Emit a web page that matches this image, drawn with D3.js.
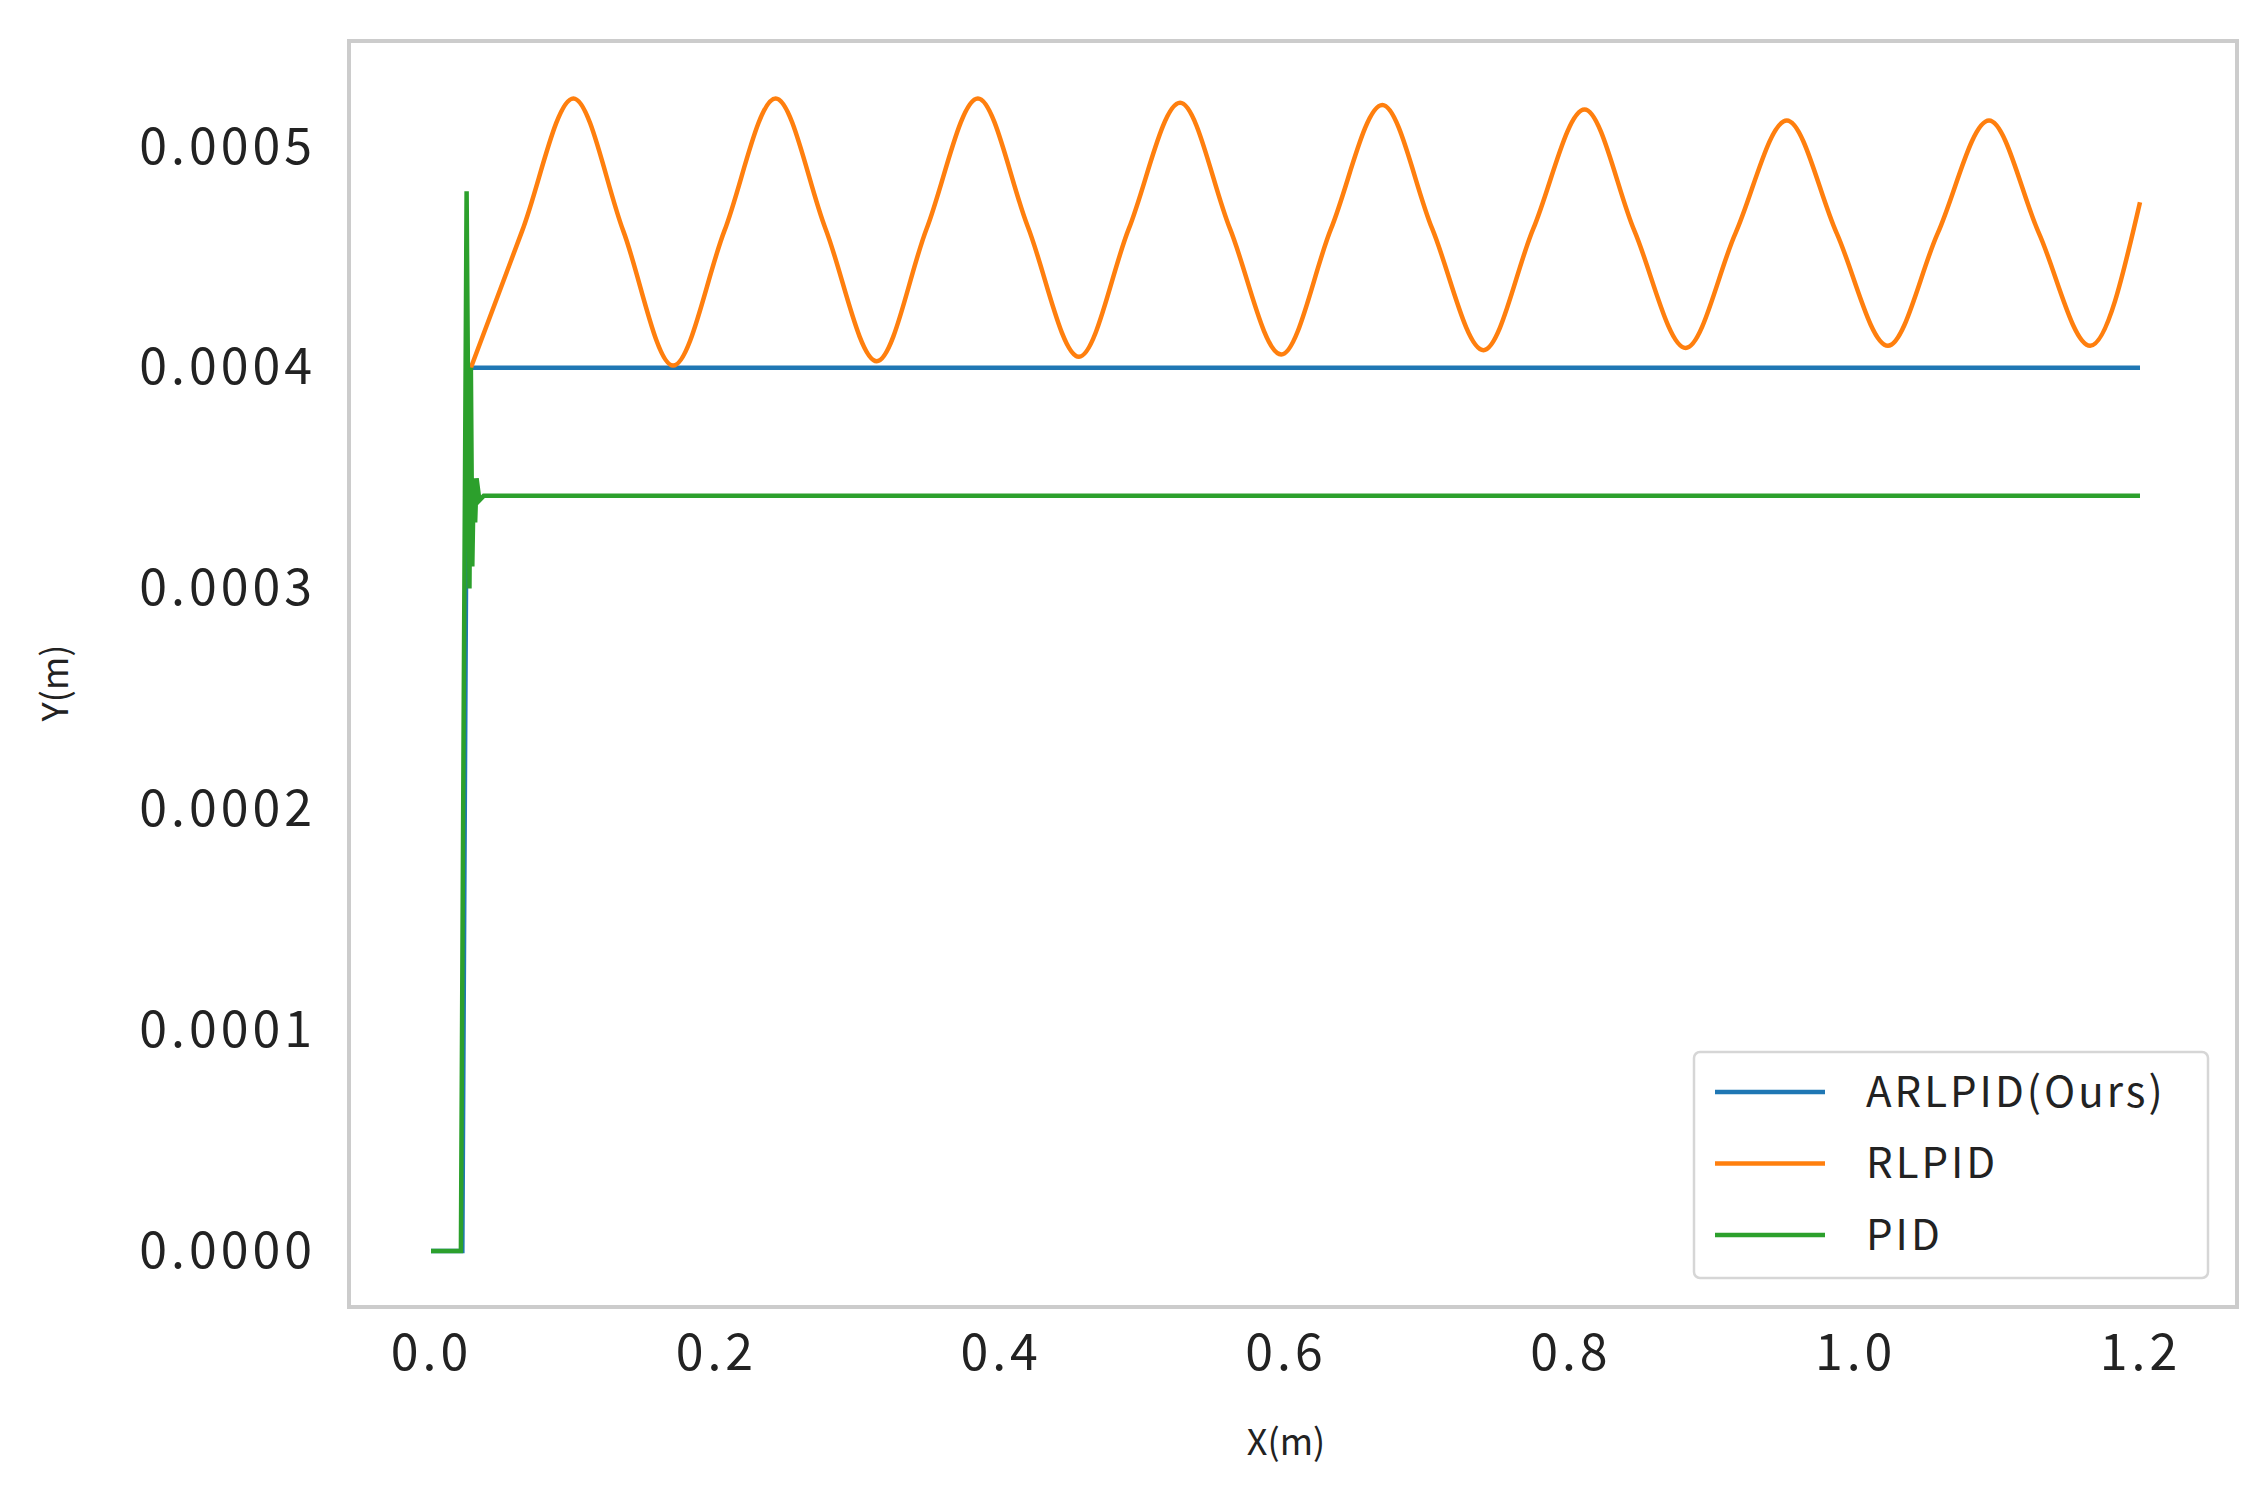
<!DOCTYPE html>
<html><head><meta charset="utf-8">
<script src="https://cdn.jsdelivr.net/npm/d3@7"></script>
<style>body{margin:0;background:#fff}</style>
</head><body>
<script>
// data
const xTicks = [0.0, 0.2, 0.4, 0.6, 0.8, 1.0, 1.2]
const yTicks = [0.0000, 0.0001, 0.0002, 0.0003, 0.0004, 0.0005]
const seriesNames = ["ARLPID(Ours)", "RLPID", "PID"]
const colors = ["#1f77b4", "#ff7f0e", "#2ca02c"]

const blueX = [0.0, 0.022, 0.025, 0.028, 1.2]
const blueY = [0, 0, 0.00035, 0.0004, 0.0004]

const orangeX = [0.028, 0.064, 0.100, 0.135, 0.170, 0.206, 0.242, 0.277, 0.313, 0.348, 0.384, 0.419, 0.455, 0.490, 0.526, 0.561, 0.597, 0.632, 0.668, 0.703, 0.739, 0.774, 0.810, 0.845, 0.881, 0.916, 0.952, 0.987, 1.023, 1.058, 1.094, 1.129, 1.165, 1.2]
const orangeY = [0.0004, 0.000462, 0.000522, 0.000462, 0.000401, 0.000462, 0.000522, 0.000463, 0.000403, 0.000463, 0.000522, 0.000464, 0.000405, 0.000463, 0.000520, 0.000463, 0.000406, 0.000463, 0.000519, 0.000463, 0.000408, 0.000463, 0.000517, 0.000462, 0.000409, 0.000461, 0.000512, 0.000461, 0.000410, 0.000461, 0.000512, 0.000461, 0.000410, 0.000475]

const greenX = [0.0, 0.021, 0.023, 0.025, 0.027, 0.028, 0.029, 0.030, 0.031, 0.032, 0.034, 0.037, 1.2]
const greenY = [0, 0, 0.00025, 0.00048, 0.00030, 0.00040, 0.00031, 0.00035, 0.00033, 0.00035, 0.00034, 0.000342, 0.000342]

const W = 2266, H = 1491
const frameL = 349, frameR = 2237, frameT = 41, frameB = 1307
const font = "'Noto Sans CJK SC', 'DejaVu Sans', sans-serif"

const svg = d3.select("body").append("svg").attr("width", W).attr("height", H)

const xScale = d3.scaleLinear().domain([0, 1.2]).range([431, 2140])
const yScale = d3.scaleLinear().domain([0, 0.0005]).range([1251, 147])

svg.append("rect")
    .attr("x", frameL).attr("y", frameT)
    .attr("width", frameR - frameL).attr("height", frameB - frameT)
    .attr("fill", "none").attr("stroke", "#cccccc").attr("stroke-width", 4)

const xAxis = svg.append("g").attr("transform", `translate(0,${frameB})`)
    .call(d3.axisBottom(xScale).tickValues(xTicks).tickSize(0).tickFormat(d3.format(".1f")))
xAxis.select(".domain").remove()
xAxis.selectAll("text").attr("dy", "1.2em")

const yAxis = svg.append("g").attr("transform", `translate(${frameL},0)`)
    .call(d3.axisLeft(yScale).tickValues(yTicks).tickSize(0).tickFormat(d3.format(".4f")))
yAxis.select(".domain").remove()
yAxis.selectAll("text").attr("dx", "-0.6em")

svg.selectAll(".tick text")
    .style("font-family", font).style("font-size", "50px")
    .style("letter-spacing", "4px").attr("fill", "#222")

const line = d3.line().x(d => xScale(d[0])).y(d => yScale(d[1]))
const zip = (a, b) => a.map((v, i) => [v, b[i]])

svg.append("path").datum(zip(blueX, blueY)).attr("d", line)
    .attr("fill", "none").attr("stroke", colors[0]).attr("stroke-width", 4.5)
svg.append("path").datum(zip(orangeX, orangeY)).attr("d", line.curve(d3.curveMonotoneX))
    .attr("fill", "none").attr("stroke", colors[1]).attr("stroke-width", 4.5)
svg.append("path").datum(zip(greenX, greenY)).attr("d", line.curve(d3.curveLinear))
    .attr("fill", "none").attr("stroke", colors[2]).attr("stroke-width", 4.5)

svg.append("text").attr("x", 1286).attr("y", 1455).attr("text-anchor", "middle")
    .style("font-family", font).style("font-size", "36px").attr("fill", "#222").text("X(m)")
svg.append("text").attr("transform", "translate(68,683) rotate(-90)").attr("text-anchor", "middle")
    .style("font-family", font).style("font-size", "36px").attr("fill", "#222").text("Y(m)")

// legend
const lg = svg.append("g")
lg.append("rect").attr("x", 1694).attr("y", 1052).attr("width", 514).attr("height", 226).attr("rx", 6)
    .attr("fill", "#fff").attr("stroke", "#d6d6d6").attr("stroke-width", 2.5)
seriesNames.forEach((name, i) => {
    const y = 1092 + i * 71.5
    lg.append("line").attr("x1", 1715).attr("x2", 1825).attr("y1", y).attr("y2", y)
        .attr("stroke", colors[i]).attr("stroke-width", 4.5)
    lg.append("text").attr("x", 1866).attr("y", y).attr("dy", "0.35em")
        .style("font-family", font).style("font-size", "42px").style("letter-spacing", "3px")
        .attr("fill", "#222").text(name)
})
</script>
</body></html>
